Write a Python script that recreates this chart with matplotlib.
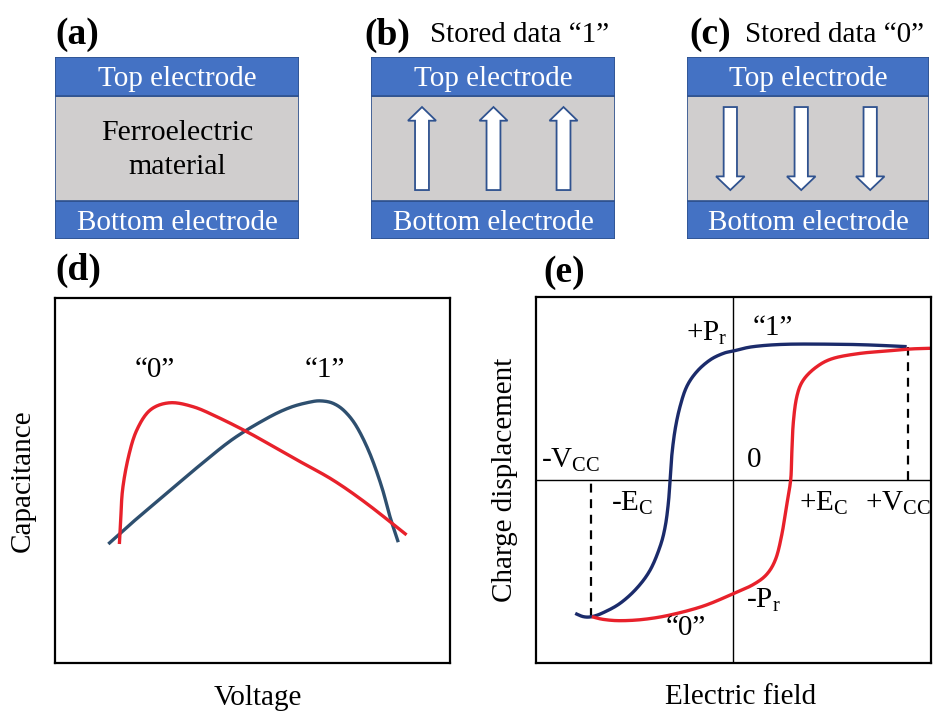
import numpy as np
import matplotlib
matplotlib.use("Agg")
from matplotlib import pyplot as plt
from matplotlib.patches import Rectangle, FancyArrow

plt.rcParams['font.family'] = ['Liberation Serif', 'DejaVu Serif']
plt.rcParams['mathtext.fontset'] = 'custom'
plt.rcParams['mathtext.rm'] = 'Liberation Serif'
plt.rcParams['mathtext.it'] = 'Liberation Serif:italic'

# 颜色
electrode_blue = '#4472c4'
edge_blue = '#2f528f'
film_gray = '#d0cece'
red = '#e8212b'
blue_d = '#2e4f6f'
blue_e = '#1b2b6b'

# (a)(b)(c) 层结构: 底电极, 铁电层, 顶电极 (占框高度的比例)
layer_names = ['Bottom electrode', '', 'Top electrode']
layer_heights = [0.21, 0.575, 0.215]
layer_colors = [electrode_blue, film_gray, electrode_blue]
arrow_x_b = [0.209, 0.502, 0.789]
arrow_x_c = [0.179, 0.472, 0.757]

# (d) C-V 曲线 (电压, 电容, 任意单位)
v0 = [16.3, 16.6, 17.1, 18.6, 20.7, 24.1, 29.1, 35.0, 40.9, 48.5, 55.3,
      62.0, 70.4, 78.9, 89.0]
c0 = [32.6, 38.3, 47.4, 56.5, 63.8, 69.3, 71.3, 70.2, 67.5, 63.4, 59.3,
      55.2, 50.1, 43.7, 35.1]
v1 = [13.5, 19.8, 28.3, 36.7, 45.1, 53.6, 59.5, 64.6, 67.5, 70.5,
      73.4, 76.4, 79.7, 82.7, 84.8, 86.9]
c1 = [32.6, 38.7, 46.5, 54.2, 61.4, 67.0, 70.0, 71.5, 71.8, 71.1,
      68.9, 64.7, 57.4, 48.3, 40.1, 33.1]

# (e) 电滞回线
e_up = [-0.800, -0.759, -0.716, -0.658, -0.573, -0.489, -0.421, -0.371,
        -0.345, -0.329, -0.320, -0.312, -0.295, -0.270, -0.236, -0.185,
        -0.118, -0.051, 0.0, 0.101, 0.270, 0.523, 0.691, 0.877]
p_up = [-0.730, -0.748, -0.748, -0.726, -0.675, -0.593, -0.493, -0.365,
        -0.256, -0.128, 0.0, 0.128, 0.274, 0.401, 0.511, 0.593, 0.657,
        0.693, 0.706, 0.730, 0.743, 0.743, 0.739, 0.730]
e_dn = [-0.716, -0.658, -0.573, -0.455, -0.320, -0.152, 0.0, 0.101, 0.170,
        0.215, 0.245, 0.268, 0.290, 0.295, 0.303, 0.321, 0.354, 0.422,
        0.506, 0.641, 0.776, 0.894, 1.0]
p_dn = [-0.748, -0.763, -0.770, -0.763, -0.739, -0.690, -0.622, -0.572,
        -0.515, -0.430, -0.300, -0.150, 0.0, 0.128, 0.310, 0.456, 0.547,
        0.620, 0.666, 0.693, 0.706, 0.717, 0.721]
vcc_pos = [-0.721, 0.882]
vcc_top = [-0.015, 0.730]
vcc_bot = [-0.748, 0.0]

W, H = 933, 712
fig = plt.figure(figsize=(W / 100, H / 100), dpi=100)


def px_axes(x0, y0, x1, y1):
    # 像素框 -> figure 坐标
    return fig.add_axes([x0 / W, 1 - y1 / H, (x1 - x0) / W, (y1 - y0) / H])


def smooth(x, y):
    # Catmull-Rom 样条, 让折线圆滑
    pts = np.c_[np.asarray(x, float), np.asarray(y, float)]
    P = np.vstack([pts[0], pts, pts[-1]])
    out = []
    for i in range(len(pts) - 1):
        p0, p1, p2, p3 = P[i], P[i + 1], P[i + 2], P[i + 3]
        for s in np.linspace(0, 1, 20, endpoint=False):
            out.append(0.5 * ((2 * p1) + (-p0 + p2) * s
                              + (2 * p0 - 5 * p1 + 4 * p2 - p3) * s ** 2
                              + (-p0 + 3 * p1 - 3 * p2 + p3) * s ** 3))
    out.append(pts[-1])
    out = np.array(out)
    return out[:, 0], out[:, 1]


def stack(ax, arrows=None, up=True):
    ax.set_xlim(0, 1)
    ax.set_ylim(0, 1)
    ax.axis('off')
    y = 0
    for name, h, c in zip(layer_names, layer_heights, layer_colors):
        ax.add_patch(Rectangle((0, y), 1, h, facecolor=c, edgecolor=edge_blue, lw=1.2))
        if name:
            ax.text(0.5, y + h / 2 - 0.015, name, ha='center', va='center',
                    color='white', fontsize=21)
        y += h
    if arrows:
        for x in arrows:
            if up:
                ax.add_patch(FancyArrow(x, 0.269, 0, 0.456, width=0.057,
                                        head_width=0.115, head_length=0.075,
                                        length_includes_head=True, fc='white',
                                        ec=edge_blue, lw=1.3))
            else:
                ax.add_patch(FancyArrow(x, 0.725, 0, -0.456, width=0.055,
                                        head_width=0.118, head_length=0.075,
                                        length_includes_head=True, fc='white',
                                        ec=edge_blue, lw=1.3))


ax_a = px_axes(55, 57, 299, 239)
stack(ax_a)
ax_a.text(0.5, 0.49, 'Ferroelectric\nmaterial', ha='center', va='center',
          fontsize=21.5, linespacing=1.4)
ax_b = px_axes(371, 57, 615, 239)
stack(ax_b, arrow_x_b, up=True)
ax_c = px_axes(687, 57, 929, 239)
stack(ax_c, arrow_x_c, up=False)

fig.text(55 / W, 1 - 35 / H, '(a)', fontsize=27, fontweight='bold', va='center')
fig.text(364 / W, 1 - 35 / H, '(b)', fontsize=27, fontweight='bold', va='center')
fig.text(430 / W, 1 - 35 / H, 'Stored data \u201c1\u201d', fontsize=21, va='center')
fig.text(689 / W, 1 - 35 / H, '(c)', fontsize=27, fontweight='bold', va='center')
fig.text(745 / W, 1 - 35 / H, 'Stored data \u201c0\u201d', fontsize=21, va='center')
fig.text(55 / W, 1 - 270 / H, '(d)', fontsize=27, fontweight='bold', va='center')
fig.text(543 / W, 1 - 272 / H, '(e)', fontsize=27, fontweight='bold', va='center')

# (d)
ax_d = px_axes(55, 298, 450, 663)
ax_d.set_xlim(0, 100)
ax_d.set_ylim(0, 100)
ax_d.set_xticks([])
ax_d.set_yticks([])
for s in ax_d.spines.values():
    s.set_linewidth(1.6)
x, y = smooth(v1, c1)
ax_d.plot(x, y, color=blue_d, lw=2.4, solid_capstyle='butt')
x, y = smooth(v0, c0)
ax_d.plot(x, y, color=red, lw=2.4, solid_capstyle='butt')
ax_d.text(25.3, 80.3, '\u201c0\u201d', ha='center', va='center', fontsize=21)
ax_d.text(68.4, 80.3, '\u201c1\u201d', ha='center', va='center', fontsize=21)
ax_d.text(-0.081, 0.5, 'Capacitance', transform=ax_d.transAxes, rotation=90,
          ha='center', va='center', fontsize=21)
ax_d.text(0.513, -0.096, 'Voltage', transform=ax_d.transAxes,
          ha='center', va='center', fontsize=21)

# (e)
ax_e = px_axes(535.7, 297.3, 931, 662.7)
ax_e.set_xlim(-1, 1)
ax_e.set_ylim(-1, 1)
ax_e.set_xticks([])
ax_e.set_yticks([])
for s in ax_e.spines.values():
    s.set_linewidth(1.6)
ax_e.axhline(0, color='black', lw=1.0)
ax_e.axvline(0, color='black', lw=1.0)
for xv, yt, yb in zip(vcc_pos, vcc_top, vcc_bot):
    ax_e.plot([xv, xv], [yb, yt], color='black', lw=1.6, ls=(0, (4, 3)))
x, y = smooth(e_up, p_up)
ax_e.plot(x, y, color=blue_e, lw=2.4, solid_capstyle='butt')
x, y = smooth(e_dn, p_dn)
ax_e.plot(x, y, color=red, lw=2.4, solid_capstyle='butt')

fs = 21
ax_e.text(-0.03, 0.80, '+P$_\\mathregular{r}$', ha='right', va='center', fontsize=fs)
ax_e.text(0.10, 0.83, '\u201c1\u201d', ha='left', va='center', fontsize=fs)
ax_e.text(-0.975, 0.11, '-V$_\\mathregular{CC}$', ha='left', va='center', fontsize=fs)
ax_e.text(0.07, 0.11, '0', ha='left', va='center', fontsize=fs)
ax_e.text(-0.62, -0.13, '-E$_\\mathregular{C}$', ha='left', va='center', fontsize=fs)
ax_e.text(0.33, -0.13, '+E$_\\mathregular{C}$', ha='left', va='center', fontsize=fs)
ax_e.text(0.665, -0.13, '+V$_\\mathregular{CC}$', ha='left', va='center', fontsize=fs,
          clip_on=True)
ax_e.text(0.065, -0.66, '-P$_\\mathregular{r}$', ha='left', va='center', fontsize=fs)
ax_e.text(-0.24, -0.81, '\u201c0\u201d', ha='center', va='center', fontsize=fs)
ax_e.text(-0.078, 0.5, 'Charge displacement', transform=ax_e.transAxes,
          rotation=90, ha='center', va='center', fontsize=21)
ax_e.text(0.517, -0.094, 'Electric field', transform=ax_e.transAxes,
          ha='center', va='center', fontsize=21)

fig.savefig('out.png', dpi=100)
